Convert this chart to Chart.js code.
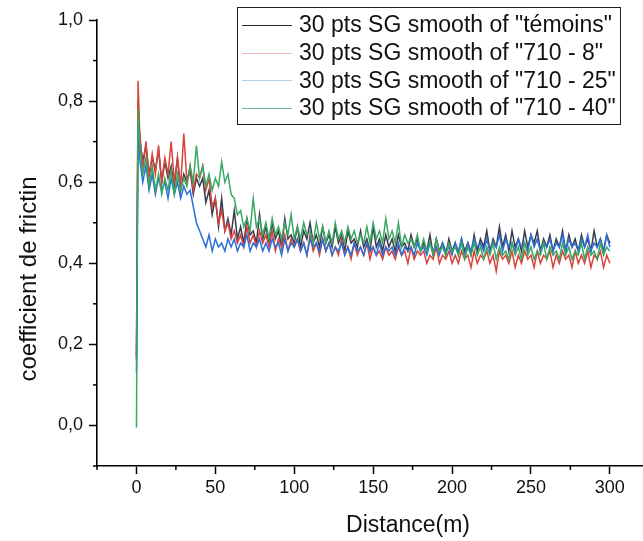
<!DOCTYPE html>
<html>
<head>
<meta charset="utf-8">
<script src="https://cdn.jsdelivr.net/npm/chart.js@4.4.1/dist/chart.umd.min.js"></script>
<style>
  html, body { margin: 0; padding: 0; background: #fff; overflow: hidden; }
</style>
</head>
<body>
<canvas id="chart-friction" width="643" height="541"></canvas>
<script>
// distance (m)
const distance = [0, 1,
    2, 4, 6, 8, 10, 12, 14, 16, 18, 20,
    22, 24, 26, 28, 30, 32, 34, 36, 38, 40,
    42, 44, 46, 48, 50, 52, 54, 56, 58, 60,
    62, 64, 66, 68, 70, 72, 74, 76, 78, 80,
    82, 84, 86, 88, 90, 92, 94, 96, 98, 100,
    102, 104, 106, 108, 110, 112, 114, 116, 118, 120,
    122, 124, 126, 128, 130, 132, 134, 136, 138, 140,
    142, 144, 146, 148, 150, 152, 154, 156, 158, 160,
    162, 164, 166, 168, 170, 172, 174, 176, 178, 180,
    182, 184, 186, 188, 190, 192, 194, 196, 198, 200,
    202, 204, 206, 208, 210, 212, 214, 216, 218, 220,
    222, 224, 226, 228, 230, 232, 234, 236, 238, 240,
    242, 244, 246, 248, 250, 252, 254, 256, 258, 260,
    262, 264, 266, 268, 270, 272, 274, 276, 278, 280,
    282, 284, 286, 288, 290, 292, 294, 296, 298, 300];

const temoins = [0.17, 0.80,
    0.71, 0.65, 0.69, 0.62, 0.66, 0.63, 0.68, 0.60, 0.65, 0.61,
    0.64, 0.59, 0.66, 0.58, 0.62, 0.60, 0.63, 0.57, 0.61, 0.59,
    0.61, 0.55, 0.58, 0.52, 0.56, 0.49, 0.56, 0.48, 0.51, 0.47,
    0.53, 0.46, 0.49, 0.45, 0.51, 0.47, 0.48, 0.45, 0.52, 0.46,
    0.49, 0.45, 0.50, 0.46, 0.48, 0.44, 0.51, 0.46, 0.47, 0.45,
    0.49, 0.44, 0.48, 0.46, 0.50, 0.45, 0.47, 0.44, 0.49, 0.45,
    0.47, 0.44, 0.49, 0.45, 0.47, 0.43, 0.48, 0.45, 0.46, 0.44,
    0.48, 0.44, 0.46, 0.43, 0.49, 0.44, 0.46, 0.43, 0.47, 0.44,
    0.46, 0.43, 0.47, 0.44, 0.45, 0.43, 0.47, 0.44, 0.46, 0.43,
    0.45, 0.43, 0.47, 0.42, 0.46, 0.43, 0.45, 0.42, 0.46, 0.43,
    0.45, 0.42, 0.46, 0.43, 0.45, 0.42, 0.47, 0.43, 0.46, 0.44,
    0.48, 0.43, 0.46, 0.44, 0.49, 0.44, 0.47, 0.43, 0.48, 0.44,
    0.46, 0.43, 0.48, 0.44, 0.47, 0.45, 0.48, 0.43, 0.46, 0.44,
    0.47, 0.43, 0.46, 0.44, 0.48, 0.43, 0.47, 0.44, 0.46, 0.43,
    0.47, 0.44, 0.46, 0.43, 0.48, 0.44, 0.46, 0.43, 0.47, 0.45];

const s710_8 = [0.16, 0.85,
    0.73, 0.63, 0.70, 0.61, 0.67, 0.62, 0.69, 0.60, 0.66, 0.62,
    0.70, 0.60, 0.66, 0.59, 0.72, 0.60, 0.64, 0.58, 0.62, 0.61,
    0.64, 0.58, 0.61, 0.54, 0.56, 0.50, 0.53, 0.48, 0.50, 0.46,
    0.48, 0.45, 0.47, 0.44, 0.49, 0.45, 0.47, 0.44, 0.48, 0.45,
    0.47, 0.44, 0.48, 0.43, 0.46, 0.44, 0.47, 0.43, 0.46, 0.44,
    0.46, 0.43, 0.45, 0.42, 0.47, 0.43, 0.45, 0.42, 0.46, 0.43,
    0.45, 0.42, 0.44, 0.42, 0.46, 0.42, 0.44, 0.41, 0.45, 0.42,
    0.44, 0.42, 0.45, 0.41, 0.44, 0.42, 0.43, 0.41, 0.44, 0.42,
    0.43, 0.41, 0.44, 0.42, 0.43, 0.40, 0.44, 0.41, 0.43, 0.42,
    0.43, 0.40, 0.42, 0.41, 0.44, 0.40, 0.42, 0.41, 0.43, 0.40,
    0.42, 0.40, 0.43, 0.41, 0.42, 0.39, 0.43, 0.40, 0.42, 0.41,
    0.43, 0.40, 0.42, 0.38, 0.43, 0.41, 0.42, 0.40, 0.43, 0.39,
    0.42, 0.40, 0.43, 0.41, 0.42, 0.39, 0.43, 0.40, 0.42, 0.41,
    0.43, 0.39, 0.42, 0.40, 0.43, 0.41, 0.42, 0.39, 0.43, 0.40,
    0.42, 0.40, 0.43, 0.39, 0.42, 0.41, 0.43, 0.39, 0.42, 0.40];

const s710_25 = [0.13, 0.75,
    0.66, 0.60, 0.64, 0.58, 0.62, 0.57, 0.61, 0.58, 0.60, 0.56,
    0.61, 0.57, 0.60, 0.56, 0.59, 0.57, 0.58, 0.54, 0.50, 0.48,
    0.46, 0.44, 0.47, 0.43, 0.46, 0.44, 0.45, 0.43, 0.46, 0.44,
    0.46, 0.43, 0.45, 0.44, 0.47, 0.43, 0.45, 0.44, 0.46, 0.43,
    0.45, 0.43, 0.46, 0.44, 0.45, 0.42, 0.46, 0.43, 0.45, 0.44,
    0.46, 0.43, 0.45, 0.42, 0.46, 0.44, 0.45, 0.43, 0.46, 0.43,
    0.45, 0.42, 0.44, 0.43, 0.45, 0.42, 0.44, 0.42, 0.45, 0.43,
    0.44, 0.42, 0.45, 0.43, 0.44, 0.42, 0.45, 0.42, 0.44, 0.43,
    0.44, 0.42, 0.45, 0.42, 0.44, 0.43, 0.44, 0.42, 0.45, 0.43,
    0.44, 0.42, 0.45, 0.43, 0.44, 0.42, 0.45, 0.43, 0.44, 0.42,
    0.45, 0.43, 0.46, 0.42, 0.45, 0.43, 0.46, 0.44, 0.45, 0.43,
    0.46, 0.43, 0.45, 0.44, 0.47, 0.43, 0.46, 0.44, 0.45, 0.43,
    0.46, 0.44, 0.45, 0.43, 0.47, 0.44, 0.46, 0.43, 0.45, 0.44,
    0.46, 0.43, 0.45, 0.44, 0.47, 0.43, 0.46, 0.44, 0.45, 0.43,
    0.46, 0.44, 0.47, 0.43, 0.45, 0.44, 0.46, 0.43, 0.47, 0.44];

const s710_40 = [-0.005, 0.78,
    0.70, 0.62, 0.66, 0.59, 0.64, 0.58, 0.62, 0.57, 0.61, 0.58,
    0.63, 0.57, 0.62, 0.58, 0.61, 0.59, 0.64, 0.60, 0.69, 0.61,
    0.64, 0.59, 0.62, 0.58, 0.61, 0.59, 0.65, 0.60, 0.62, 0.57,
    0.56, 0.52, 0.53, 0.49, 0.51, 0.48, 0.56, 0.49, 0.51, 0.47,
    0.50, 0.46, 0.51, 0.47, 0.49, 0.46, 0.50, 0.47, 0.52, 0.46,
    0.49, 0.46, 0.50, 0.47, 0.48, 0.45, 0.50, 0.46, 0.49, 0.45,
    0.48, 0.45, 0.50, 0.46, 0.48, 0.45, 0.49, 0.46, 0.48, 0.45,
    0.47, 0.45, 0.49, 0.45, 0.50, 0.46, 0.48, 0.45, 0.51, 0.46,
    0.48, 0.45, 0.50, 0.44, 0.47, 0.45, 0.46, 0.44, 0.47, 0.43,
    0.46, 0.43, 0.45, 0.42, 0.46, 0.43, 0.44, 0.42, 0.45, 0.43,
    0.44, 0.42, 0.45, 0.41, 0.44, 0.42, 0.45, 0.42, 0.44, 0.41,
    0.44, 0.42, 0.45, 0.41, 0.44, 0.42, 0.43, 0.41, 0.45, 0.42,
    0.44, 0.41, 0.45, 0.42, 0.44, 0.41, 0.43, 0.42, 0.45, 0.41,
    0.44, 0.42, 0.43, 0.41, 0.45, 0.42, 0.44, 0.41, 0.43, 0.42,
    0.45, 0.41, 0.44, 0.42, 0.43, 0.41, 0.45, 0.42, 0.44, 0.43];

const seriesLabels = [
    '30 pts SG smooth of "témoins"',
    '30 pts SG smooth of "710 - 8"',
    '30 pts SG smooth of "710 - 25"',
    '30 pts SG smooth of "710 - 40"'
];
const seriesColors = ['#3a3a4c', '#d8433b', '#2b6fd8', '#38a862'];
const legendColors = ['#2a2a2a', '#f0b8b4', '#b4cfe6', '#6fb8a0'];

// ticks
const xMinor = [-25, 25, 75, 125, 175, 225, 275];
const yMinor = [-0.1, 0.1, 0.3, 0.5, 0.7, 0.9];
const xTitle = 'Distance(m)';
const yTitle = 'coefficient de frictin';

const FONT = "'Liberation Sans', Arial, sans-serif";

function toPoints(values) {
    return values.map((v, i) => ({ x: distance[i], y: v }));
}

const decorPlugin = {
    id: 'decor',
    afterDraw(chart) {
        const ctx = chart.ctx;
        const xs = chart.scales.x;
        const ys = chart.scales.y;
        const area = chart.chartArea;
        ctx.save();
        ctx.strokeStyle = '#000';
        ctx.lineWidth = 1.5;
        xMinor.forEach(v => {
            const px = xs.getPixelForValue(v);
            ctx.beginPath();
            ctx.moveTo(px, area.bottom);
            ctx.lineTo(px, area.bottom + 4);
            ctx.stroke();
        });
        yMinor.forEach(v => {
            const py = ys.getPixelForValue(v);
            ctx.beginPath();
            ctx.moveTo(area.left, py);
            ctx.lineTo(area.left - 4, py);
            ctx.stroke();
        });

        // axis titles
        ctx.fillStyle = '#111';
        ctx.font = '23px ' + FONT;
        ctx.textAlign = 'center';
        ctx.textBaseline = 'middle';
        ctx.fillText(xTitle, 408, 526);
        ctx.font = '24px ' + FONT;
        ctx.translate(29, 279);
        ctx.rotate(-Math.PI / 2);
        ctx.fillText(yTitle, 0, 0);
        ctx.setTransform(1, 0, 0, 1, 0, 0);

        // legend box
        ctx.lineWidth = 1;
        ctx.strokeStyle = '#222';
        ctx.strokeRect(237.5, 7.5, 383, 117);
        ctx.font = '23px ' + FONT;
        ctx.textAlign = 'left';
        seriesLabels.forEach((label, i) => {
            const y = 25 + i * 27.7;
            ctx.strokeStyle = legendColors[i];
            ctx.beginPath();
            ctx.moveTo(242, Math.round(y) + 0.5);
            ctx.lineTo(292, Math.round(y) + 0.5);
            ctx.stroke();
            ctx.fillStyle = '#111';
            ctx.fillText(label, 299, y + 1);
        });
        ctx.restore();
    }
};

const ctx = document.getElementById('chart-friction').getContext('2d');
const myChart = new Chart(ctx, {
    type: 'line',
    data: {
        datasets: [
            { label: seriesLabels[0], data: toPoints(temoins), borderColor: seriesColors[0], order: 4 },
            { label: seriesLabels[1], data: toPoints(s710_8), borderColor: seriesColors[1], order: 3 },
            { label: seriesLabels[2], data: toPoints(s710_25), borderColor: seriesColors[2], order: 2 },
            { label: seriesLabels[3], data: toPoints(s710_40), borderColor: seriesColors[3], order: 1 }
        ]
    },
    options: {
        responsive: false,
        animation: false,
        devicePixelRatio: 1,
        datasets: {
            line: { borderWidth: 1.5, pointRadius: 0, tension: 0, fill: false }
        },
        layout: { padding: { top: 20, left: 0, right: 0, bottom: 0 } },
        plugins: {
            legend: { display: false },
            tooltip: { enabled: false }
        },
        scales: {
            x: {
                type: 'linear',
                min: -25,
                max: 321,
                afterFit: s => { s.height = 75; },
                border: { display: true, color: '#000', width: 1.6 },
                grid: { drawOnChartArea: false, drawTicks: true, tickLength: 8, tickColor: '#000', tickWidth: 1.5 },
                ticks: {
                    stepSize: 50,
                    includeBounds: false,
                    color: '#111',
                    padding: 3,
                    maxRotation: 0,
                    font: { family: FONT, size: 18 }
                }
            },
            y: {
                min: -0.1,
                max: 1.0,
                afterFit: s => { s.width = 97; },
                border: { display: true, color: '#000', width: 1.6 },
                grid: { drawOnChartArea: false, drawTicks: true, tickLength: 8, tickColor: '#000', tickWidth: 1.5 },
                ticks: {
                    stepSize: 0.2,
                    includeBounds: false,
                    color: '#111',
                    padding: 6,
                    font: { family: FONT, size: 18 },
                    callback: v => v.toFixed(1).replace('.', ',')
                }
            }
        }
    },
    plugins: [decorPlugin]
});
</script>
</body>
</html>
